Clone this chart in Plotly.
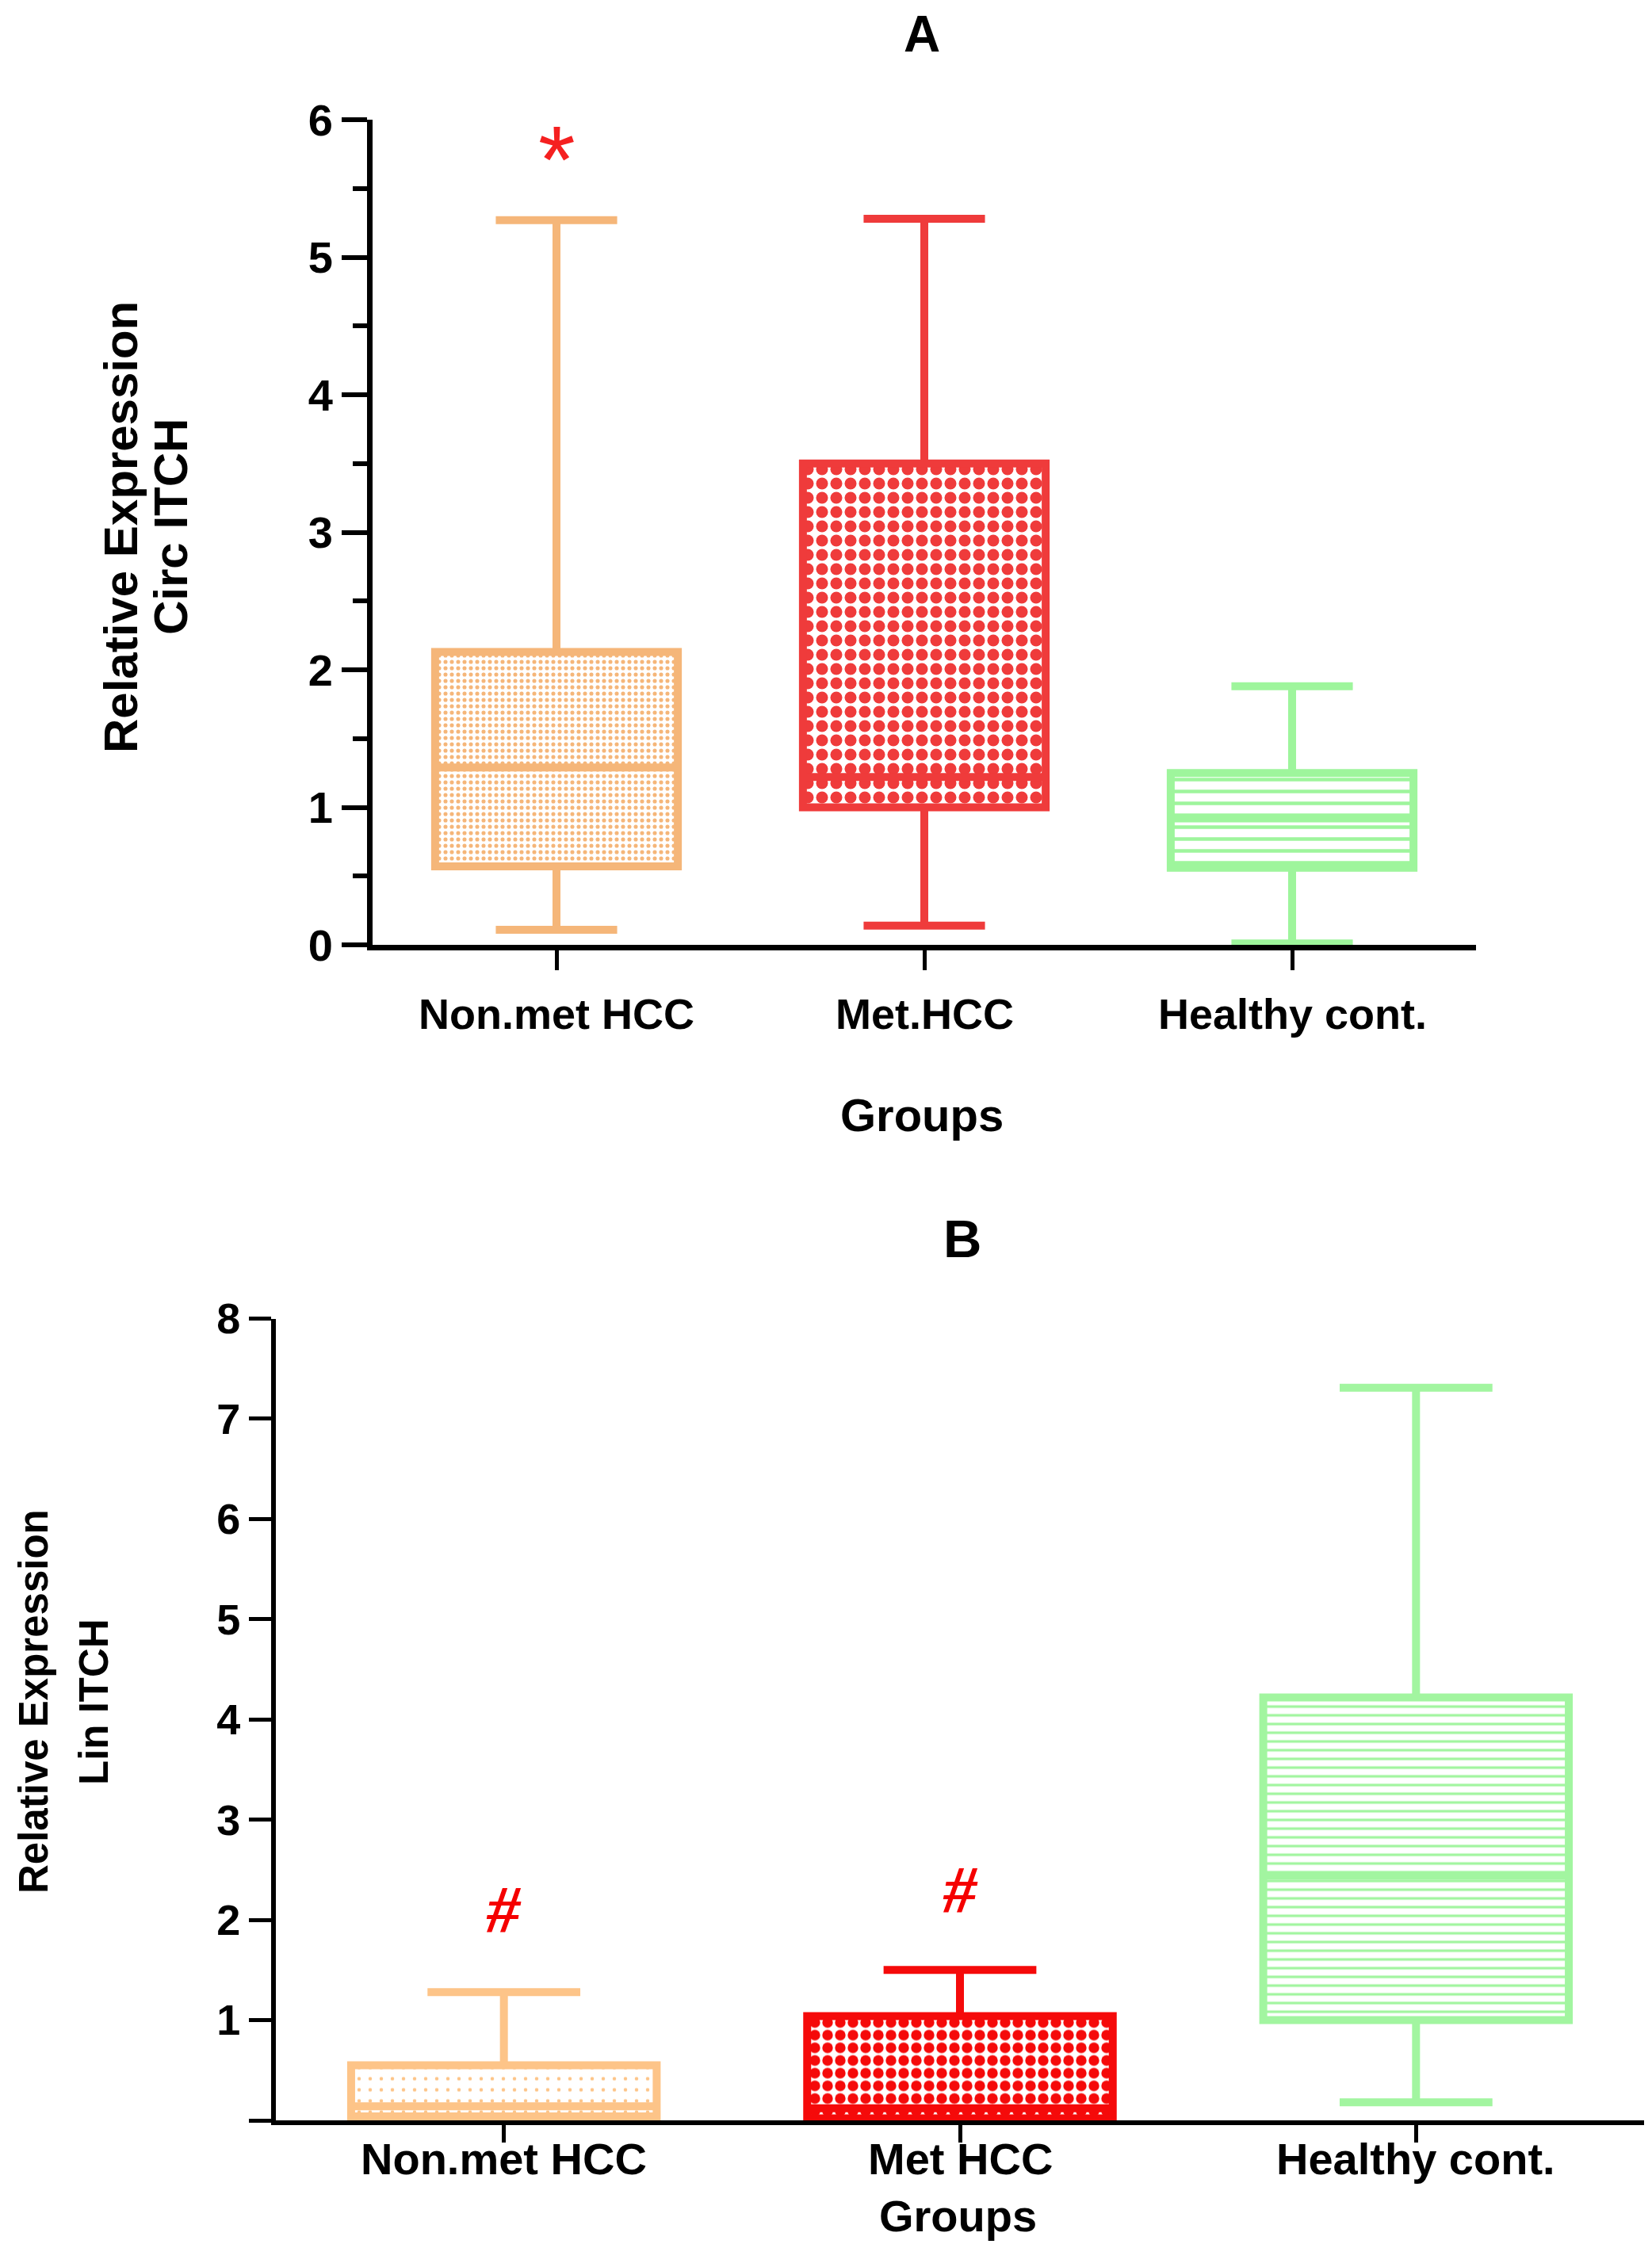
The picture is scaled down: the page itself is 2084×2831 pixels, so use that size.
import plotly.graph_objects as go

# panel A - circ ITCH
groups_a = ["Non.met HCC", "Met.HCC", "Healthy cont."]
a_low = [0.11, 0.14, 0.01]
a_q1 = [0.57, 1.00, 0.56]
a_med = [1.29, 1.22, 0.92]
a_q3 = [2.13, 3.50, 1.25]
a_high = [5.27, 5.28, 1.88]

# panel B - lin ITCH
groups_b = ["Non.met HCC", "Met HCC", "Healthy cont."]
b_low = [0.02, 0.01, 0.18]
b_q1 = [0.04, 0.02, 1.00]
b_med = [0.14, 0.12, 2.44]
b_q3 = [0.55, 1.04, 4.22]
b_high = [1.28, 1.50, 7.31]

# significance marks
mark_a = ["*"]
mark_a_group = ["Non.met HCC"]
mark_a_y = [5.82]
mark_b = ["#", "#"]
mark_b_group = ["Non.met HCC", "Met HCC"]
mark_b_y = [2.10, 2.30]

colors_a = ["#F5B679", "#EF3B3B", "#9EF59C"]
colors_b = ["#FDC488", "#F50A0A", "#A2F5A0"]
patterns_a = [dict(shape=".", size=8, solidity=0.32),
              dict(shape=".", size=18, solidity=0.55),
              dict(shape="-", size=15, solidity=0.3)]
patterns_b = [dict(shape=".", size=14, solidity=0.08),
              dict(shape=".", size=16, solidity=0.55),
              dict(shape="-", size=11, solidity=0.3)]

W, H = 2084, 2831
OFF = 8  # default page margin around the plot div
FONT = "Liberation Sans, Arial, sans-serif"


def px_x(px):
    return (px - OFF) / W


def px_y(py):
    return 1 - (py - OFF) / H


fig = go.Figure()


def add_panel(groups, low, q1, med, q3, high, colors, patterns, xa, ya, width, lw):
    for i, g in enumerate(groups):
        pat = dict(patterns[i])
        pat.update(fgcolor=colors[i], bgcolor="white", fillmode="replace")
        fig.add_trace(go.Bar(
            x=[g], y=[q3[i] - q1[i]], base=[q1[i]], width=width,
            marker=dict(color="white", line=dict(width=0), pattern=pat),
            xaxis=xa, yaxis=ya, showlegend=False, hoverinfo="skip"))
        fig.add_trace(go.Box(
            x=[g], q1=[q1[i]], median=[med[i]], q3=[q3[i]],
            lowerfence=[low[i]], upperfence=[high[i]],
            width=width, whiskerwidth=0.5,
            fillcolor="rgba(0,0,0,0)", line=dict(color=colors[i], width=lw),
            xaxis=xa, yaxis=ya, showlegend=False, boxpoints=False))


add_panel(groups_a, a_low, a_q1, a_med, a_q3, a_high, colors_a, patterns_a, "x", "y", 0.66, 10)
add_panel(groups_b, b_low, b_q1, b_med, b_q3, b_high, colors_b, patterns_b, "x2", "y2", 0.67, 10)

annotations = []
for t, g, v in zip(mark_a, mark_a_group, mark_a_y):
    annotations.append(dict(text=t, x=g, y=v, xref="x", yref="y", showarrow=False,
                            yshift=-19, font=dict(family=FONT, size=120, color="#F52020")))
for t, g, v in zip(mark_b, mark_b_group, mark_b_y):
    annotations.append(dict(text="<i>" + t + "</i>", x=g, y=v, xref="x2", yref="y2", showarrow=False,
                            font=dict(family="Liberation Serif, Times New Roman, serif", size=84,
                                      color="#F50000", weight="bold")))

# category labels under each axis
for g in groups_a:
    annotations.append(dict(text=g, x=g, xref="x", y=px_y(1279), yref="paper", showarrow=False,
                            yanchor="middle", font=dict(family=FONT, size=54, color="black", weight="bold")))
for g in groups_b:
    annotations.append(dict(text=g, x=g, xref="x2", y=px_y(2723), yref="paper", showarrow=False,
                            yanchor="middle", font=dict(family=FONT, size=56, color="black", weight="bold")))


def label(text, px, py, size, angle=0):
    annotations.append(dict(text=text, x=px_x(px), y=px_y(py), xref="paper", yref="paper",
                            showarrow=False, textangle=angle, xanchor="center", yanchor="middle",
                            font=dict(family=FONT, size=size, color="black", weight="bold")))


label("A", 1163, 43, 64)
label("Groups", 1163, 1406, 58)
label("Relative Expression", 152, 665, 60, -90)
label("Circ ITCH", 215, 665, 60, -90)
label("B", 1214, 1562, 67)
label("Groups", 1208, 2795, 56)
label("Relative Expression", 42, 2147, 51, -90)
label("Lin ITCH", 118, 2147, 51, -90)

axis_common = dict(showgrid=False, zeroline=False, showline=True, linecolor="black",
                   ticks="outside", tickcolor="black", automargin=False)

fig.update_layout(
    width=W, height=H,
    margin=dict(l=0, r=0, t=0, b=0, autoexpand=False),
    paper_bgcolor="white", plot_bgcolor="white",
    barmode="overlay", boxmode="overlay",
    annotations=annotations,
    xaxis=dict(axis_common, domain=[px_x(470), px_x(1862)], anchor="y", type="category",
               range=[-0.5, 2.5], linewidth=7, ticklen=25, tickwidth=5, showticklabels=False),
    yaxis=dict(axis_common, domain=[px_y(1192), px_y(151)], anchor="x",
               range=[0, 6], tickmode="linear", tick0=0, dtick=1,
               linewidth=7, ticklen=32, tickwidth=6,
               minor=dict(dtick=0.5, ticks="outside", ticklen=18, tickwidth=6, tickcolor="black"),
               tickfont=dict(family=FONT, size=56, color="black", weight="bold")),
    xaxis2=dict(axis_common, domain=[px_x(348), px_x(2074)], anchor="y2", type="category",
                range=[-0.5, 2.5], linewidth=6, ticklen=22, tickwidth=5, showticklabels=False),
    yaxis2=dict(axis_common, domain=[px_y(2675), px_y(1663.5)], anchor="x2",
                range=[0, 8], tickmode="array", tickvals=list(range(9)),
                ticktext=[""] + [str(v) for v in range(1, 9)],
                linewidth=6, ticklen=28, tickwidth=5,
                tickfont=dict(family=FONT, size=54, color="black", weight="bold")),
)

fig.write_html("out.html")
